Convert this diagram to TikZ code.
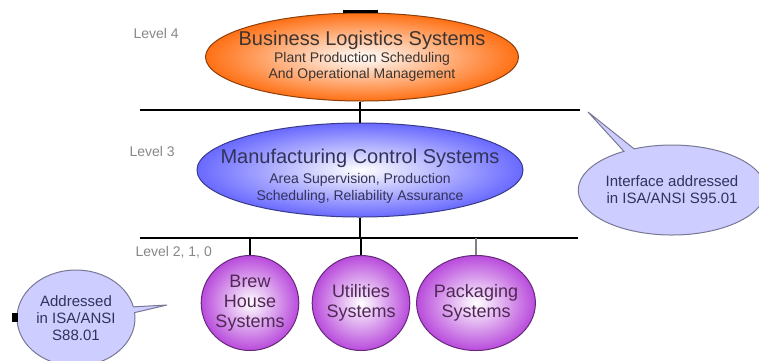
\documentclass[tikz,border=0pt]{standalone}
\usepackage{fontspec}
\setmainfont{Liberation Sans}
\usetikzlibrary{shapes.geometric,shapes.callouts}
\definecolor{lvlgray}{RGB}{135,135,135}
\definecolor{orangeedge}{RGB}{255,112,20}
\definecolor{blueedge}{RGB}{105,105,255}
\definecolor{purpleedge}{RGB}{185,75,220}
\definecolor{calloutfill}{RGB}{205,205,255}
\definecolor{calloutline}{RGB}{120,120,150}
\definecolor{labeltext}{RGB}{60,52,48}
\definecolor{bluetext}{RGB}{50,50,90}
\definecolor{purpletext}{RGB}{80,40,85}

\begin{document}
\begin{tikzpicture}[
  x=1pt, y=-1pt,
  bus/.style={line width=2.5pt},
  link/.style={line width=2pt},
  level/.style={anchor=west, text=lvlgray, font=\fontsize{14}{16}\selectfont},
  system/.style={ellipse, draw=#1!55!black, line width=1pt,
    inner color=white, outer color=#1, inner sep=0pt},
  title/.style={font=\fontsize{20}{24}\selectfont},
  detail/.style={font=\fontsize{14}{16}\selectfont},
  unit/.style={system=purpleedge, minimum width=92pt, minimum height=95pt,
    align=center, text=purpletext, font=\fontsize{18}{20}\selectfont},
  note/.style={ellipse callout, draw=calloutline, line width=1pt, fill=calloutfill,
    callout pointer arc=7, align=center, text=bluetext, inner sep=0pt,
    font=\fontsize{15}{17}\selectfont}
  ]
\useasboundingbox (0,0) rectangle (759,360);
\clip (0,0) rectangle (759,360);
%\draw [ultra thin, lightgray] (0,0) grid[step=50] (759,360);

% level 4
\node [level] (lvl4) at (130,33) {Level 4};
\node [system=orangeedge, minimum width=313pt, minimum height=88pt] (bls) at (362,57) {};
\node [title, text=labeltext] (blsname) at (362,40) {Business Logistics Systems};
\node [detail, text=labeltext] (blsa) at (362,59) {Plant Production Scheduling};
\node [detail, text=labeltext] (blsb) at (362,75) {And Operational Management};
\coordinate (topa) at (343,11);
\coordinate (topb) at (378,11);
\draw [line width=3pt] (topa) -- (topb);

% first bus
\coordinate (busaw) at (140,110);
\coordinate (busae) at (580,110);
\draw [bus] (busaw) -- (busae);

% level 3
\node [level] (lvl3) at (126,151) {Level 3};
\node [system=blueedge, minimum width=326pt, minimum height=94pt] (mcs) at (360,170) {};
\node [title, text=bluetext] (mcsname) at (360,158) {Manufacturing Control Systems};
\node [detail, text=bluetext] (mcsa) at (360,180) {Area Supervision, Production};
\node [detail, text=bluetext] (mcsb) at (360,197) {Scheduling, Reliability Assurance};
\draw [link] (bls.south -| mcs.north) -- (mcs.north);

% second bus
\coordinate (busbw) at (140,238);
\coordinate (busbe) at (578,238);
\draw [bus] (busbw) -- (busbe);
\draw [link] (mcs.south) -- (mcs.south |- busbw);

% levels 2, 1, 0
\node [level] (lvl2) at (132,252) {Level 2, 1, 0};
\node [unit] (brew) at (250,303) {Brew\\House\\Systems};
\node [unit] (util) at (361,303) {Utilities\\Systems};
\node [unit] (pack) at (476,303) {Packaging\\Systems};
\draw [link] (brew.north |- busbw) -- (brew.north);
\draw [link] (util.north |- busbw) -- (util.north);
\draw [link, gray] (pack.north |- busbw) -- (pack.north);

% callouts
\node [note, minimum width=175pt, minimum height=90pt,
  callout absolute pointer={(588,112)}] (iface) at (672,190)
  {Interface addressed\\in ISA/ANSI S95.01};
\node [note, minimum width=118pt, minimum height=96pt,
  callout absolute pointer={(167,305)}] (batch) at (76,318)
  {Addressed\\in ISA/ANSI\\S88.01};
\fill (12,313) rectangle (18,322);
\end{tikzpicture}
\end{document}
